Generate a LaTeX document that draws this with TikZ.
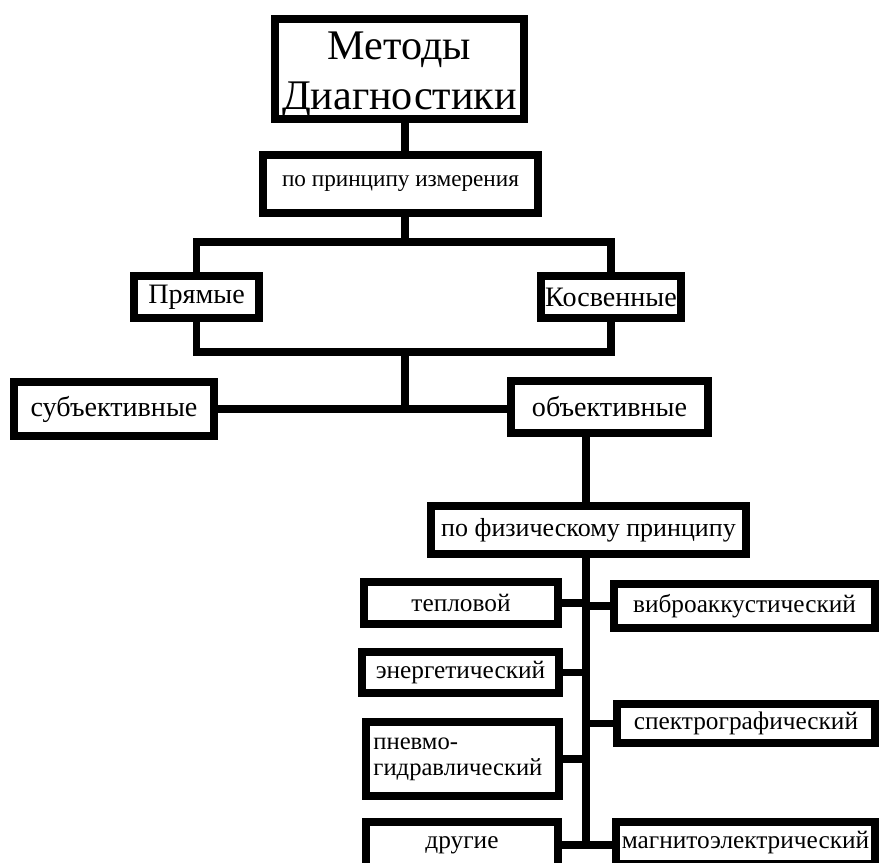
\documentclass[tikz,border=0pt]{standalone}
\usepackage{fontspec}
\setmainfont{Liberation Serif}

\begin{document}
\begin{tikzpicture}[x=0.025cm, y=-0.025cm]
				\tikzstyle{box}=[draw, line width=5.5pt, fill=white, inner sep=0pt, 
				font=\fontsize{18}{19}\selectfont] 
				\tikzstyle{link}=[line width=5pt] 
				\useasboundingbox (0,0) rectangle (880,862); 
				% upper levels
				\node[box, minimum width=6.225cm, minimum height=2.5cm, align=center, 
				text height=58pt, text depth=0pt, 
				font=\fontsize{30}{35.5}\selectfont] (title) at (399.5,69) {Методы\\Диагностики}; 
				\node[box, minimum width=6.875cm, minimum height=1.45cm, 
				font=\fontsize{16.5}{18}\selectfont] (princ) at (400.5,184) {по принципу измерения}; 
				\node[box, minimum width=3.125cm, minimum height=1.05cm, 
				font=\fontsize{20}{22}\selectfont] (direct) at (196.5,297) {Прямые}; 
				\node[box, minimum width=3.5cm, minimum height=1.05cm, 
				font=\fontsize{20}{22}\selectfont] (indirect) at (611,297) {Косвенные}; 
				\node[box, minimum width=5cm, minimum height=1.35cm, 
				font=\fontsize{20}{22}\selectfont] (subj) at (114,409) {субъективные}; 
				\node[box, minimum width=4.925cm, minimum height=1.3cm, 
				font=\fontsize{20}{22}\selectfont] (obj) at (609.5,407) {объективные}; 
				\node[box, minimum width=7.875cm, minimum height=1.2cm, 
				font=\fontsize{18.5}{20}\selectfont] (phys) at (588.5,530) {по физическому принципу}; 
				% physical principle
				\node[box, minimum width=4.85cm, minimum height=1.05cm] (heat) at (461,603) {тепловой}; 
				\node[box, minimum width=6.525cm, minimum height=1.1cm] (vibro) at (744.5,606) {виброаккустический}; 
				\node[box, minimum width=4.925cm, minimum height=1.025cm] (energy) at (460.5,672.5) {энергетический}; 
				\node[box, minimum width=6.45cm, minimum height=0.975cm] (spectro) at (746,723.5) {спектрографический}; 
				\node[box, minimum height=1.85cm, text width=4.45cm, inner xsep=0.19cm, align=left, 
				text height=12pt, text depth=26.2pt, 
				font=\fontsize{17.5}{19}\selectfont] (pneumo) at (462.5,759) {пневмо-\\гидравлический}; 
				\node[box, minimum width=4.8cm, minimum height=1.15cm] (other) at (462,845) {другие}; 
				\node[box, minimum width=6.475cm, minimum height=1.05cm] (magneto) at (745.5,843) {магнитоэлектрический}; 
				% connectors
				\coordinate (top) at (405,242); 
				\coordinate (bot) at (405,352); 
				\coordinate (mid) at (405,409); 
				\coordinate (tr) at (586,845); 
				\draw[link] (title.south -| top) -- (princ.north -| top); 
				\draw[link] (princ.south -| top) -- (top); 
				\draw[link] (direct.north) -- (direct.north |- top) -- (indirect.north |- top) -- (indirect.north); 
				\draw[link] (direct.south) -- (direct.south |- bot) -- (indirect.south |- bot) -- (indirect.south); 
				\draw[link] (bot) -- (mid); 
				\draw[link] (subj.east) -- (subj.east -| obj.west); 
				\draw[link] (obj.south -| tr) -- (phys.north -| tr); 
				\draw[link] (phys.south -| tr) -- (tr); 
				\draw[link] (heat.east) -- (heat.east -| tr); 
				\draw[link] (vibro.west) -- (vibro.west -| tr); 
				\draw[link] (energy.east) -- (energy.east -| tr); 
				\draw[link] (spectro.west) -- (spectro.west -| tr); 
				\draw[link] (pneumo.east) -- (pneumo.east -| tr); 
				\draw[link] (other.east) -- (other.east -| magneto.west); 
\end{tikzpicture}
\end{document}
